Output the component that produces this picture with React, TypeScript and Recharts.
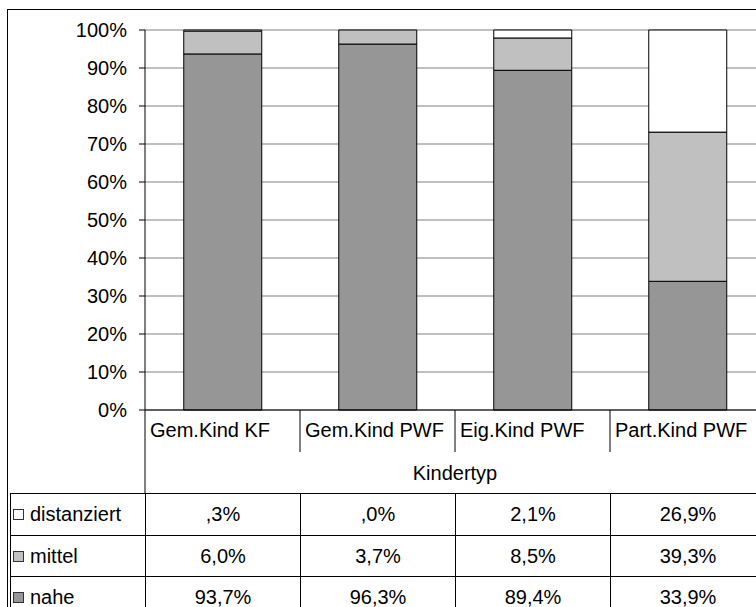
import React from "react";
import { BarChart, Bar, XAxis, YAxis, CartesianGrid } from "recharts";

const categories = ["Gem.Kind KF", "Gem.Kind PWF", "Eig.Kind PWF", "Part.Kind PWF"];
const nahe = [93.7, 96.3, 89.4, 33.9];
const mittel = [6.0, 3.7, 8.5, 39.3];
const distanziert = [0.3, 0.0, 2.1, 26.9];
const yTicks = [0, 0.1, 0.2, 0.3, 0.4, 0.5, 0.6, 0.7, 0.8, 0.9, 1];

const series = [
  { key: "distanziert", label: "distanziert", values: distanziert, color: "#FFFFFF" },
  { key: "mittel", label: "mittel", values: mittel, color: "#C0C0C0" },
  { key: "nahe", label: "nahe", values: nahe, color: "#969696" },
];

const data = categories.map((name, i) => ({
  name,
  nahe: nahe[i],
  mittel: mittel[i],
  distanziert: distanziert[i],
}));

const FONT = "Arial, 'Liberation Sans', sans-serif";
const CHART_W = 765;
const PLOT_LEFT = 145;
const BAND = (CHART_W - PLOT_LEFT) / categories.length;
const AXIS_H = 83;

// SPSS style: ",3%" instead of "0,3%"
const fmt = (v: number) => {
  let s = v.toFixed(1).replace(".", ",");
  if (s.startsWith("0,")) s = s.slice(1);
  return s + "%";
};

function CategoryTick(props: any) {
  const { x, y, payload, index } = props;
  const left = x - BAND / 2;
  return (
    <g>
      <line x1={left} x2={left} y1={y} y2={y + (index === 0 ? AXIS_H : 42)} stroke="#000" />
      <text x={left + 5} y={y + 27} fontSize={20} fontFamily={FONT} fill="#000">
        {payload.value}
      </text>
    </g>
  );
}

const rowTop = [493, 535, 576];
const rowH = [42, 41, 41];
const colLeft = [10, 145, 300, 455, 610];
const colW = [135, 155, 155, 155, 155];

export default function App() {
  return (
    <div
      style={{
        position: "absolute",
        left: 0,
        top: 0,
        width: 756,
        height: 607,
        overflow: "hidden",
        background: "#fff",
        fontFamily: FONT,
      }}
    >
      <div
        style={{
          position: "absolute",
          left: 7,
          top: 9,
          width: 800,
          height: 700,
          border: "1px solid #000",
        }}
      />
      <div style={{ position: "absolute", left: 0, top: 0 }}>
        <BarChart
          width={CHART_W}
          height={30 + 380 + AXIS_H}
          data={data}
          stackOffset="expand"
          barCategoryGap="25%"
          margin={{ top: 30, right: 0, bottom: 0, left: 0 }}
        >
          <CartesianGrid vertical={false} stroke="#808080" />
          <YAxis
            width={PLOT_LEFT}
            domain={[0, 1]}
            ticks={yTicks}
            tickFormatter={(v: number) => `${Math.round(v * 100)}%`}
            axisLine={{ stroke: "#000" }}
            tickLine={{ stroke: "#000" }}
            tickSize={6}
            tickMargin={12}
            tick={{ fontSize: 20, fill: "#000", fontFamily: FONT }}
          />
          <XAxis
            dataKey="name"
            height={AXIS_H}
            axisLine={{ stroke: "#000" }}
            tickLine={false}
            tickSize={0}
            tickMargin={0}
            interval={0}
            tick={<CategoryTick />}
            label={{
              value: "Kindertyp",
              position: "insideBottom",
              offset: 13,
              fill: "#000",
              fontSize: 20,
              fontFamily: FONT,
            }}
          />
          <Bar dataKey="nahe" stackId="a" fill="#969696" stroke="#000" isAnimationActive={false} />
          <Bar dataKey="mittel" stackId="a" fill="#C0C0C0" stroke="#000" isAnimationActive={false} />
          <Bar dataKey="distanziert" stackId="a" fill="#FFFFFF" stroke="#000" isAnimationActive={false} />
        </BarChart>
      </div>
      {series.map((s, r) =>
        colLeft.map((x, c) => (
          <div
            key={`${s.key}-${c}`}
            style={{
              position: "absolute",
              left: x,
              top: rowTop[r],
              width: colW[c],
              height: rowH[r],
              borderLeft: "1px solid #000",
              borderTop: "1px solid #000",
              boxSizing: "border-box",
              display: "flex",
              alignItems: "center",
              justifyContent: c === 0 ? "flex-start" : "center",
              fontSize: 20,
              color: "#000",
            }}
          >
            {c === 0 ? (
              <>
                <span
                  style={{
                    display: "inline-block",
                    width: 9,
                    height: 9,
                    marginLeft: 2,
                    marginRight: 6,
                    background: s.color,
                    border: "1px solid #333",
                  }}
                />
                {s.label}
              </>
            ) : (
              fmt(s.values[c - 1])
            )}
          </div>
        ))
      )}
    </div>
  );
}
